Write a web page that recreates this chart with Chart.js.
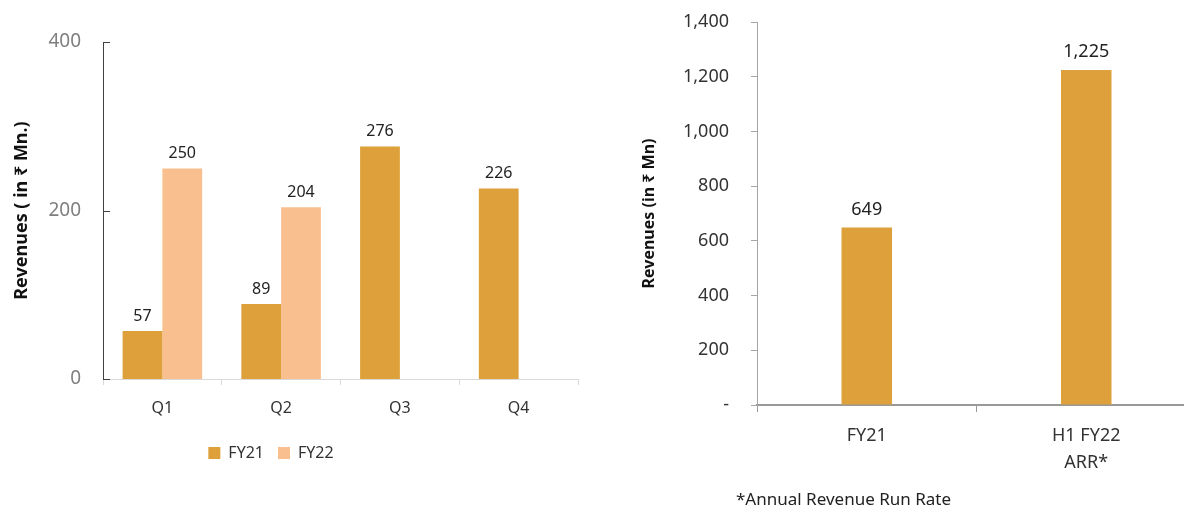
<!DOCTYPE html>
<html>
<head>
<meta charset="utf-8">
<script src="https://cdn.jsdelivr.net/npm/chart.js@4"></script>
<style>
  html, body { margin: 0; padding: 0; background: #fff; overflow: hidden; }
  body { width: 1184px; height: 511px; position: relative; font-family: "Noto Sans", sans-serif; }
  #boxLeft { position: absolute; left: 0; top: 0; width: 600px; height: 511px; }
  #boxRight { position: absolute; left: 620px; top: 0; width: 576px; height: 511px; }
  #nota { position: absolute; left: 736px; top: 487px; font-size: 17px; color: #222; }
</style>
</head>
<body>
<div id="boxLeft"><canvas id="graficoTrimestre"></canvas></div>
<div id="boxRight"><canvas id="graficoAnual"></canvas></div>
<div id="nota">*Annual Revenue Run Rate</div>
<script>
const trimestres = ["Q1", "Q2", "Q3", "Q4"];
const fy21 = [57, 89, 276, 226];
const fy22 = [250, 204, null, null];
const ticksEsq = [0, 200, 400];

const periodos = [["FY21"], ["H1 FY22", "ARR*"]];
const receitaAnual = [649, 1225];
const ticksDir = [0, 200, 400, 600, 800, 1000, 1200, 1400];

const corFY21 = "#DDA03A";
const corFY22 = "#F9BF8F";
const fonte = "'Noto Sans', sans-serif";

// value labels above each bar
const rotulos = {
    id: "rotulos",
    afterDatasetsDraw(chart, args, opts) {
        const ctx = chart.ctx;
        ctx.save();
        ctx.font = opts.size + "px " + fonte;
        ctx.fillStyle = "#222";
        ctx.textAlign = "center";
        ctx.textBaseline = "bottom";
        chart.data.datasets.forEach((ds, i) => {
            chart.getDatasetMeta(i).data.forEach((bar, j) => {
                const v = ds.data[j];
                if (v === null || v === undefined) return;
                ctx.fillText(v.toLocaleString("en-US"), bar.x, bar.y - opts.offset);
            });
        });
        ctx.restore();
    }
};

// short tick marks pointing into the plot on the left chart
const ticksDentro = {
    id: "ticksDentro",
    afterDraw(chart) {
        if (!chart.options.plugins.ticksDentro) return;
        const y = chart.scales.y;
        const ctx = chart.ctx;
        ctx.save();
        ctx.strokeStyle = "#404040";
        ctx.lineWidth = 1;
        y.ticks.forEach(t => {
            const py = Math.round(y.getPixelForValue(t.value)) + 0.5;
            ctx.beginPath();
            ctx.moveTo(chart.chartArea.left, py);
            ctx.lineTo(chart.chartArea.left + 7, py);
            ctx.stroke();
        });
        ctx.restore();
    }
};

// shift the legend so it sits where the original has it
const legendaPos = {
    id: "legendaPos",
    beforeDraw(chart) {
        if (!chart.options.plugins.legendaPos) return;
        chart.legend.left = 0;
        chart.legend.right = 542;
    }
};

new Chart(document.getElementById("graficoTrimestre"), {
    type: "bar",
    data: {
        labels: trimestres,
        datasets: [
            { label: "FY21", data: fy21, backgroundColor: corFY21 },
            { label: "FY22", data: fy22, backgroundColor: corFY22 }
        ]
    },
    options: {
        responsive: true,
        maintainAspectRatio: false,
        animation: false,
        categoryPercentage: 0.67,
        barPercentage: 1.0,
        layout: { padding: { top: 42, left: 0, right: 22, bottom: 40 } },
        plugins: {
            legend: {
                position: "bottom",
                labels: {
                    boxWidth: 12, boxHeight: 12, padding: 14,
                    color: "#333", font: { family: fonte, size: 16 }
                }
            },
            tooltip: { enabled: false },
            rotulos: { size: 16, offset: 7 },
            ticksDentro: true,
            legendaPos: true
        },
        scales: {
            x: {
                grid: { display: true, drawOnChartArea: false, drawTicks: true, tickLength: 6, color: "#d9d9d9", offset: true },
                border: { color: "#d9d9d9" },
                ticks: { color: "#333", padding: 14, font: { family: fonte, size: 16 } },
                afterFit(scale) { scale.height = 52; }
            },
            y: {
                min: 0, max: 400,
                afterBuildTicks(scale) { scale.ticks = ticksEsq.map(v => ({ value: v })); },
                grid: { display: false, drawTicks: false },
                border: { display: true, color: "#404040" },
                ticks: { color: "#7f7f7f", padding: 22, font: { family: fonte, size: 19 } },
                title: {
                    display: true, text: "Revenues ( in ₹ Mn.)", color: "#111",
                    font: { family: fonte, size: 18, weight: "bold" }, padding: { top: 11, bottom: 0 }
                },
                afterFit(scale) { scale.width = 103; }
            }
        }
    },
    plugins: [rotulos, ticksDentro, legendaPos]
});

new Chart(document.getElementById("graficoAnual"), {
    type: "bar",
    data: {
        labels: periodos,
        datasets: [
            { label: "Revenues", data: receitaAnual, backgroundColor: corFY21 }
        ]
    },
    options: {
        responsive: true,
        maintainAspectRatio: false,
        animation: false,
        categoryPercentage: 0.23,
        barPercentage: 1.0,
        layout: { padding: { top: 22, left: 0, right: 0, bottom: 30 } },
        plugins: {
            legend: { display: false },
            tooltip: { enabled: false },
            rotulos: { size: 18, offset: 9 }
        },
        scales: {
            x: {
                grid: { display: true, drawOnChartArea: false, drawTicks: true, tickLength: 7, color: "#999", offset: true },
                border: { color: "#999", width: 2 },
                ticks: { color: "#333", padding: 10, font: { family: fonte, size: 18, lineHeight: 1.5 } },
                afterFit(scale) { scale.height = 76; }
            },
            y: {
                min: 0, max: 1400,
                afterBuildTicks(scale) { scale.ticks = ticksDir.map(v => ({ value: v })); },
                grid: { display: true, drawOnChartArea: false, drawTicks: true, tickLength: 6, color: "#a6a6a6" },
                border: { display: true, color: "#a6a6a6" },
                ticks: {
                    color: "#333", padding: 22, font: { family: fonte, size: 18 },
                    callback: v => v === 0 ? "-" : v.toLocaleString("en-US")
                },
                title: {
                    display: true, text: "Revenues (in ₹ Mn)", color: "#111",
                    font: { family: fonte, size: 16, weight: "bold" }, padding: { top: 20, bottom: 0 }
                },
                afterFit(scale) {
                    scale.width = 137;
                    scale.paddingTop = 0;
                    scale.paddingBottom = 0;
                }
            }
        }
    },
    plugins: [rotulos]
});
</script>
</body>
</html>
